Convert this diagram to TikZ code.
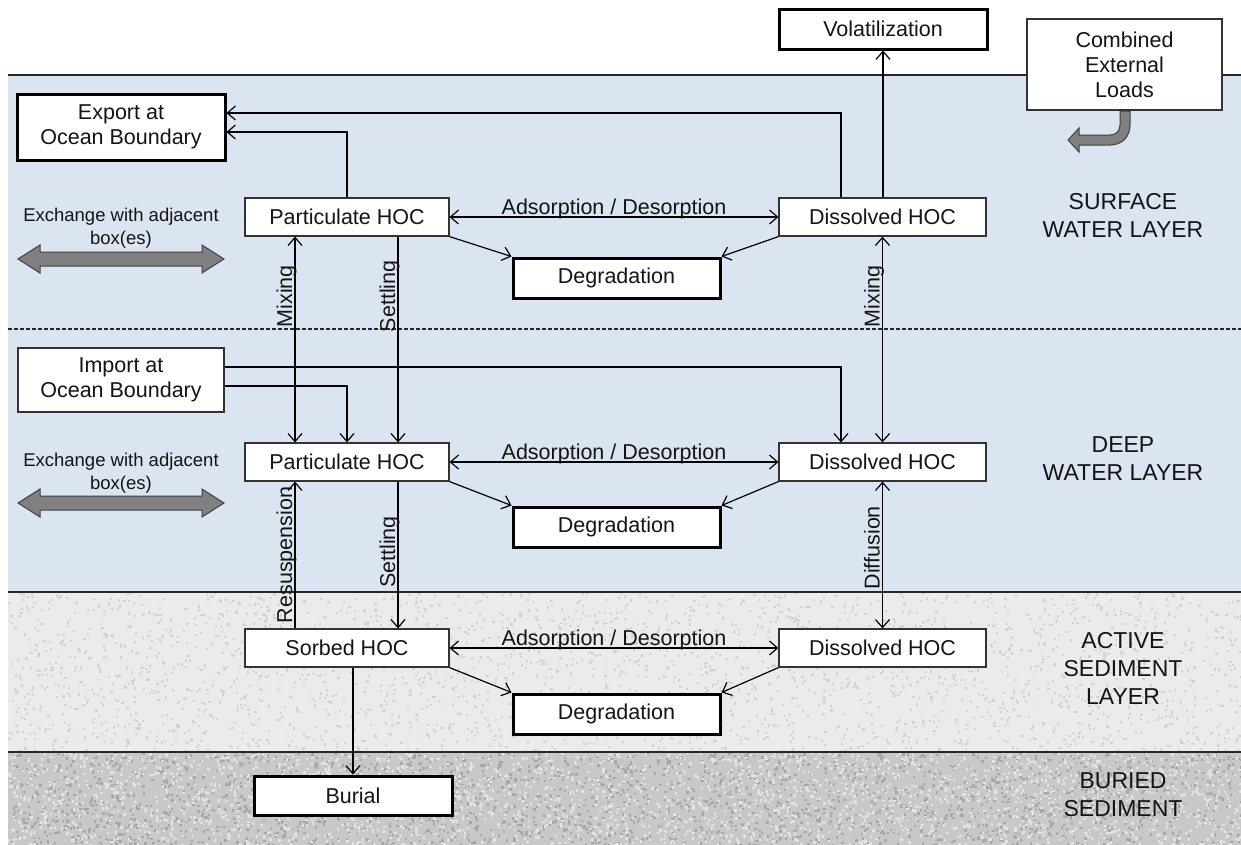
\documentclass[tikz,border=0pt]{standalone}
\usepackage{fontspec}
\setmainfont{Liberation Sans}
\usetikzlibrary{arrows.meta,calc}
\definecolor{waterblue}{HTML}{DBE5F1}
\definecolor{sedA}{HTML}{EBEBEB}
\definecolor{sedAdot}{HTML}{D2D2D2}
\definecolor{sedB}{HTML}{C8C8C8}
\definecolor{sedBdark}{HTML}{A8A8A8}
\definecolor{sedBlight}{HTML}{E2E2E2}
\definecolor{blockgray}{HTML}{808080}
\definecolor{ink}{HTML}{141414}
\begin{document}
\begin{tikzpicture}[x=1pt,y=-1pt,
  box/.style={draw=black!80, line width=1.2pt, fill=white, inner sep=0pt, align=center,
    text=ink, font=\fontsize{21.5}{25}\selectfont},
  thickbox/.style={box, draw=black, line width=3pt},
  lbl/.style={text=ink, font=\fontsize{21.5}{25}\selectfont, inner sep=0pt},
  layerlbl/.style={text=ink, align=center, font=\fontsize{23}{28}\selectfont, inner sep=0pt},
  exlbl/.style={text=ink, align=center, font=\fontsize{18.5}{23}\selectfont, inner sep=0pt},
  arr/.style={draw=black, line width=1.2pt, -{Straight Barb[length=8pt,width=14pt]}},
  dbl/.style={draw=black, line width=1.2pt, {Straight Barb[length=8pt,width=14pt]}-{Straight Barb[length=8pt,width=14pt]}},
  blockarrow/.style={fill=blockgray, draw=black!75, line width=1pt, line join=miter}
]
\useasboundingbox (0,0) rectangle (1241,844);
% backgrounds
\fill[white] (0,0) rectangle (1241,844);
\fill[waterblue] (8,75) rectangle (1250,592);
\fill[sedA] (8,592) rectangle (1250,752);
\fill[sedB] (8,752) rectangle (1250,852);
% speckle texture
\pgfmathsetseed{11}
\begin{scope}
  \clip (8,592) rectangle (1250,752);
  \foreach \i in {1,...,2600}{
    \pgfmathsetmacro\rx{8+rnd*1240}
    \pgfmathsetmacro\ry{592+rnd*160}
    \fill[sedAdot] (\rx,\ry) rectangle ++(2.2,2.2);
  }
\end{scope}
\begin{scope}
  \clip (8,752) rectangle (1250,852);
  \foreach \i in {1,...,2700}{
    \pgfmathsetmacro\rx{8+rnd*1240}
    \pgfmathsetmacro\ry{752+rnd*98}
    \fill[sedBdark] (\rx,\ry) rectangle ++(2.4,2.4);
  }
  \foreach \i in {1,...,2700}{
    \pgfmathsetmacro\rx{8+rnd*1240}
    \pgfmathsetmacro\ry{752+rnd*98}
    \fill[sedBlight] (\rx,\ry) rectangle ++(2.4,2.4);
  }
\end{scope}
\draw[black!85, line width=1.5pt] (8,75) -- (1250,75);
\draw[black!85, line width=1.2pt, dash pattern=on 4pt off 2pt] (8,329) -- (1250,329);
\draw[black!85, line width=1.5pt] (8,592) -- (1250,592);
\draw[black!85, line width=1.5pt] (8,752) -- (1250,752);

% guide coordinates
\coordinate (xMixL) at (295,0);
\coordinate (xSet) at (398,0);
\coordinate (xExp) at (841,0);

% nodes
\node[thickbox, minimum width=208pt, minimum height=66pt] (exp) at (121,127) {Export at\\Ocean Boundary};
\node[thickbox, minimum width=208pt, minimum height=40pt] (vol) at (883,29) {Volatilization};
\node[box, minimum width=195pt, minimum height=91pt] (comb) at (1124.5,64.5) {Combined\\External\\Loads};
\node[box, minimum width=206pt, minimum height=64pt] (imp) at (121,380) {Import at\\Ocean Boundary};

\node[box, minimum width=204pt, minimum height=38pt] (sPart) at (347,217) {Particulate HOC};
\node[box, minimum width=207pt, minimum height=38pt] (sDis) at (882.5,217) {Dissolved HOC};
\node[thickbox, minimum width=207pt, minimum height=40pt] (sDeg) at (616.5,278) {Degradation};

\node[box, minimum width=204pt, minimum height=38pt] (dPart) at (347,462) {Particulate HOC};
\node[box, minimum width=207pt, minimum height=38pt] (dDis) at (882.5,462) {Dissolved HOC};
\node[thickbox, minimum width=207pt, minimum height=40pt] (dDeg) at (616.5,527) {Degradation};

\node[box, minimum width=204pt, minimum height=38pt] (aSorb) at (347,648) {Sorbed HOC};
\node[box, minimum width=207pt, minimum height=38pt] (aDis) at (882.5,648) {Dissolved HOC};
\node[thickbox, minimum width=207pt, minimum height=40pt] (aDeg) at (616.5,714) {Degradation};

\node[thickbox, minimum width=198pt, minimum height=39pt] (bur) at (353,795.5) {Burial};

% layer labels
\node[layerlbl] (lS) at (1123,215) {SURFACE\\WATER LAYER};
\node[layerlbl] (lD) at (1123,459) {DEEP\\WATER LAYER};
\node[layerlbl] (lA) at (1123,668) {ACTIVE\\SEDIMENT\\LAYER};
\node[layerlbl] (lB) at (1123,795) {BURIED\\SEDIMENT};

% exchange labels and block arrows
\node[exlbl] (exS) at (121,228) {Exchange with adjacent\\box(es)};
\node[exlbl] (exD) at (121,473) {Exchange with adjacent\\box(es)};
\foreach \yy in {259,503}{
  \draw[blockarrow] (18,\yy) -- (40,\yy-14) -- (40,\yy-7) -- (202,\yy-7) -- (202,\yy-14) -- (224,\yy)
    -- (202,\yy+14) -- (202,\yy+7) -- (40,\yy+7) -- (40,\yy+14) -- cycle;
}
% curved loads arrow
\draw[blockarrow] (1120,111) -- (1130,111) -- (1130,125) .. controls (1130,137) and (1122,145) .. (1110,145)
  -- (1079,145) -- (1079,152) -- (1068,140) -- (1079,128) -- (1079,135) -- (1110,135)
  .. controls (1116,135) and (1120,131) .. (1120,125) -- cycle;

% surface connectors
\draw[arr] (sPart.north) |- ($(exp.east)+(0,5)$);
\draw[arr] (sDis.north -| xExp) |- ($(exp.east)+(0,-14)$);
\draw[arr] (vol.south |- sDis.north) -- (vol.south);
\draw[dbl] (sPart.east) -- (sDis.west) node[lbl, pos=0.5, anchor=base, yshift=3pt] (adS) {Adsorption / Desorption};
\draw[arr] (sPart.south east) -- (sDeg.north west);
\draw[arr] (sDis.south west) -- (sDeg.north east);
\draw[dbl] (sPart.south -| xMixL) -- (dPart.north -| xMixL) node[lbl, pos=0.29, rotate=90, anchor=base, yshift=3pt] (mixL) {Mixing};
\draw[arr] (sPart.south -| xSet) -- (dPart.north -| xSet) node[lbl, pos=0.29, rotate=90, anchor=base, yshift=3pt] (setS) {Settling};
\draw[dbl] (sDis.south) -- (dDis.north) node[lbl, pos=0.29, rotate=90, anchor=base, yshift=3pt] (mixR) {Mixing};

% import connectors
\draw[arr] ($(imp.east)+(0,-13)$) -| (dDis.north -| xExp);
\draw[arr] ($(imp.east)+(0,6)$) -| (dPart.north);

% deep connectors
\draw[dbl] (dPart.east) -- (dDis.west) node[lbl, pos=0.5, anchor=base, yshift=3pt] (adD) {Adsorption / Desorption};
\draw[arr] (dPart.south east) -- (dDeg.north west);
\draw[arr] (dDis.south west) -- (dDeg.north east);
\draw[arr] (aSorb.north -| xMixL) -- (dPart.south -| xMixL) node[lbl, pos=0.5, rotate=90, anchor=base, yshift=3pt] (resus) {Resuspension};
\draw[arr] (dPart.south -| xSet) -- (aSorb.north -| xSet) node[lbl, pos=0.48, rotate=90, anchor=base, yshift=3pt] (setD) {Settling};
\draw[dbl] (dDis.south) -- (aDis.north) node[lbl, pos=0.45, rotate=90, anchor=base, yshift=3pt] (diff) {Diffusion};

% sediment connectors
\draw[dbl] (aSorb.east) -- (aDis.west) node[lbl, pos=0.5, anchor=base, yshift=3pt] (adA) {Adsorption / Desorption};
\draw[arr] (aSorb.south east) -- (aDeg.north west);
\draw[arr] (aDis.south west) -- (aDeg.north east);
\draw[arr] (aSorb.south -| bur.north) -- (bur.north);
\end{tikzpicture}
\end{document}
